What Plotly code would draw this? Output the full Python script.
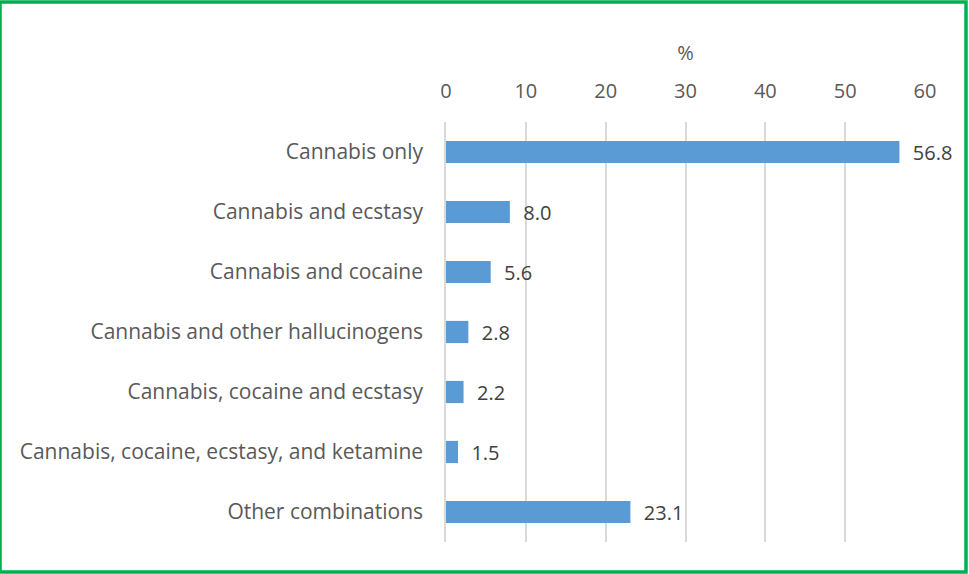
import plotly.graph_objects as go

categories = ["Cannabis only", "Cannabis and ecstasy", "Cannabis and cocaine",
              "Cannabis and other hallucinogens", "Cannabis, cocaine and ecstasy",
              "Cannabis, cocaine, ecstasy, and ketamine", "Other combinations"]
values = [56.8, 8.0, 5.6, 2.8, 2.2, 1.5, 23.1]
tick_vals = [0, 10, 20, 30, 40, 50, 60]

FONT = "'Open Sans', sans-serif"

fig = go.Figure(go.Bar(
    y=categories, x=values, orientation="h",
    marker=dict(color="#5B9BD5", line=dict(color="#5B9BD5", width=0)),
    width=0.37,
    text=[f"\u00a0\u00a0{v:.1f}" for v in values], textposition="outside",
    textfont=dict(family=FONT, size=20, color="#404040"),
    constraintext="none",
    cliponaxis=False,
))

fig.update_layout(
    width=969, height=574,
    margin=dict(l=446, r=44, t=122, b=32),
    paper_bgcolor="white", plot_bgcolor="white",
    showlegend=False,
    font=dict(family=FONT, size=20, color="#595959"),
    xaxis=dict(side="top", range=[0, 60], tickvals=tick_vals,
               showgrid=True, gridcolor="#D9D9D9", gridwidth=1.5,
               zeroline=False, showline=False,
               ticks="outside", ticklen=15, tickcolor="rgba(0,0,0,0)",
               tickfont=dict(size=20, color="#595959"),
               title=dict(text="%", font=dict(size=20, color="#595959"), standoff=11)),
    yaxis=dict(autorange="reversed", showline=True, linecolor="#D9D9D9", linewidth=1.5,
               ticks="", ticklabelstandoff=17,
               tickfont=dict(size=21, color="#595959")),
    shapes=[dict(type="rect", xref="paper", yref="paper",
                 x0=-446/479, x1=1+41/479, y0=-30/420, y1=1+120/420,
                 line=dict(color="#00B050", width=3.5), fillcolor="rgba(0,0,0,0)")],
)

fig.write_html("out.html")
